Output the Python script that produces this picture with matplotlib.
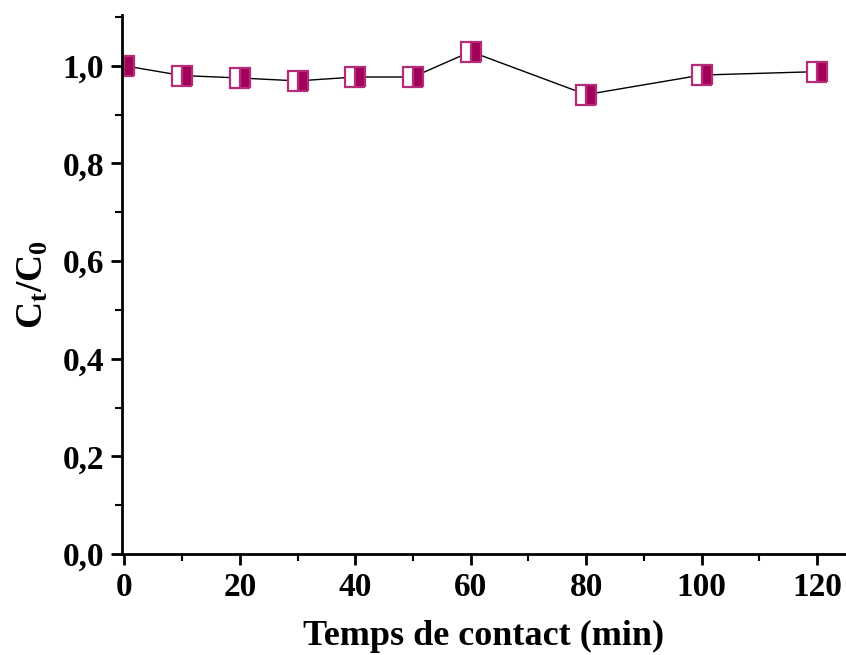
import matplotlib
matplotlib.use("Agg")
import matplotlib.pyplot as plt
from matplotlib.ticker import MultipleLocator, FuncFormatter

# Contact time (min) and normalized concentration Ct/C0
time_min = [0, 10, 20, 30, 40, 50, 60, 80, 100, 120]
ct_c0 = [1.000, 0.980, 0.975, 0.969, 0.977, 0.977, 1.029, 0.941, 0.981, 0.988]

plt.rcParams['font.family'] = ['Liberation Serif', 'DejaVu Serif']
plt.rcParams['font.weight'] = 'bold'
plt.rcParams['mathtext.fontset'] = 'custom'
plt.rcParams['mathtext.rm'] = 'Liberation Serif:bold'
plt.rcParams['mathtext.bf'] = 'Liberation Serif:bold'
plt.rcParams['mathtext.it'] = 'Liberation Serif:bold'

fig = plt.figure(figsize=(8.46, 6.55), dpi=100)
ax = fig.add_axes([122 / 846, 101 / 655, (846 - 122) / 846, (554 - 15) / 655])

color = '#A0005A'
ax.plot(time_min, ct_c0, color='black', lw=1.0, zorder=1)
ax.plot(time_min, ct_c0, ls='none', marker='s', markersize=14.5, fillstyle='right',
        markerfacecolor=color, markerfacecoloralt='white',
        markeredgecolor='#B62C78', markeredgewidth=1.6, zorder=2)

ax.set_xlim(-0.4, 125)
ax.set_ylim(0, 1.104)

ax.xaxis.set_major_locator(MultipleLocator(20))
ax.xaxis.set_minor_locator(MultipleLocator(10))
ax.yaxis.set_major_locator(MultipleLocator(0.2))
ax.yaxis.set_minor_locator(MultipleLocator(0.1))
ax.yaxis.set_major_formatter(FuncFormatter(lambda v, p: f"{v:.1f}".replace('.', ',')))
ax.xaxis.set_major_formatter(FuncFormatter(lambda v, p: f"{v:.0f}"))

for s in ['top', 'right']:
    ax.spines[s].set_visible(False)
for s in ['left', 'bottom']:
    ax.spines[s].set_linewidth(2)

ax.tick_params(which='major', direction='out', length=8, width=2, labelsize=24, pad=5)
ax.tick_params(which='minor', direction='out', length=5, width=1.5)
for lab in ax.get_xticklabels() + ax.get_yticklabels():
    lab.set_fontweight('bold')

ax.set_xlabel('Temps de contact (min)', fontsize=26, fontweight='bold', labelpad=12)
ax.set_ylabel(r'$\mathbf{C_t/C_0}$', fontsize=27)
ax.yaxis.set_label_coords(-0.098, 0.5)

fig.savefig('out.png', dpi=100)
